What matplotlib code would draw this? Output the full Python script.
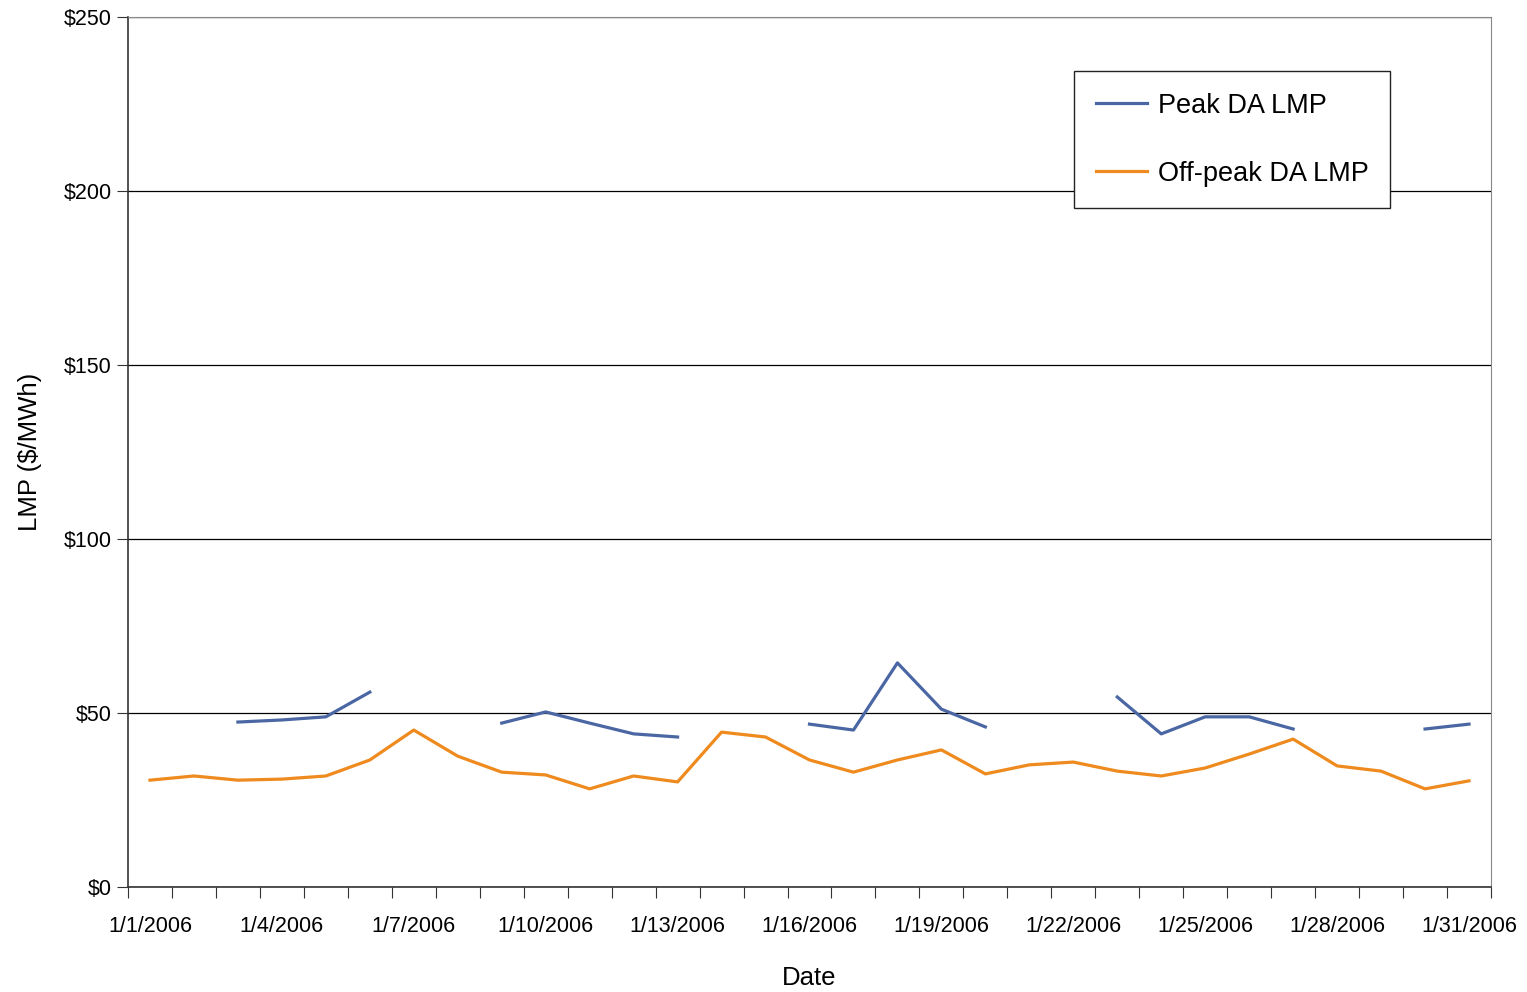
import numpy as np
import matplotlib
matplotlib.use("Agg")
import matplotlib.pyplot as plt
from matplotlib import font_manager

# шрифт: вузький, якщо є
names = {f.name for f in font_manager.fontManager.ttflist}
fam = 'Liberation Sans Narrow' if 'Liberation Sans Narrow' in names else 'Liberation Sans'
plt.rcParams['font.family'] = [fam, 'DejaVu Sans']

days = [f"1/{d}/2006" for d in range(1, 32)]
nan = np.nan
peak = [nan, nan, 47.4, 48.0, 48.9, 56.0, nan, nan, 47.1, 50.3, 47.1, 44.0, 43.1,
        nan, nan, 46.8, 45.1, 64.4, 51.1, 46.0, nan, nan, 54.6, 44.0, 48.9, 48.9,
        45.4, nan, nan, 45.4, 46.8]
offpeak = [30.7, 31.9, 30.7, 31.0, 31.9, 36.5, 45.1, 37.6, 33.0, 32.2, 28.2, 31.9,
           30.2, 44.5, 43.1, 36.5, 33.0, 36.5, 39.4, 32.5, 35.1, 35.9, 33.3, 31.9,
           34.2, 38.2, 42.5, 34.8, 33.3, 28.2, 30.5]

fig = plt.figure(figsize=(15.27, 9.92), dpi=100)
ax = fig.add_axes([128/1527, 1 - 887/992, (1491-128)/1527, (887-17)/992])

x = np.arange(len(days))
ax.plot(x, peak, color='#4a67a4', linewidth=2.3, label='Peak DA LMP')
ax.plot(x, offpeak, color='#ee8a1e', linewidth=2.3, label='Off-peak DA LMP')

ax.set_xlim(-0.5, len(days) - 0.5)
ax.set_ylim(0, 250)
ax.set_yticks(np.arange(0, 251, 50))
ax.set_yticklabels([f"${v}" for v in range(0, 251, 50)])
ax.yaxis.grid(True, color='black', linewidth=0.9)
ax.set_axisbelow(True)

ax.set_xticks(np.arange(-0.5, len(days), 1), minor=False)
ax.set_xticklabels([])
ax.set_xticks(x[::3], minor=True)
ax.set_xticklabels(days[::3], minor=True)
ax.tick_params(axis='x', which='major', length=8, direction='out', color='#333333')
ax.tick_params(axis='x', which='minor', length=0, pad=21, labelsize=15.5)
ax.tick_params(axis='y', length=8, direction='out', labelsize=15.5, color='#333333')

for s in ['left', 'bottom']:
    ax.spines[s].set_color('#333333')
    ax.spines[s].set_linewidth(1.2)
for s in ['top', 'right']:
    ax.spines[s].set_color('#888888')

ax.set_xlabel('Date', fontsize=18.5, labelpad=21)
ax.set_ylabel('LMP ($/MWh)', fontsize=18.5, labelpad=16)

leg = ax.legend(loc='upper left', bbox_to_anchor=((1074-128)/1363, 1 - (71-17)/870),
                fontsize=19.5, frameon=True, fancybox=False, edgecolor='#222222',
                framealpha=1, handlelength=1.9, borderpad=0.8, labelspacing=1.55,
                handletextpad=0.4, borderaxespad=0)
leg.get_frame().set_linewidth(1.0)

fig.savefig('out.png', dpi=100)
